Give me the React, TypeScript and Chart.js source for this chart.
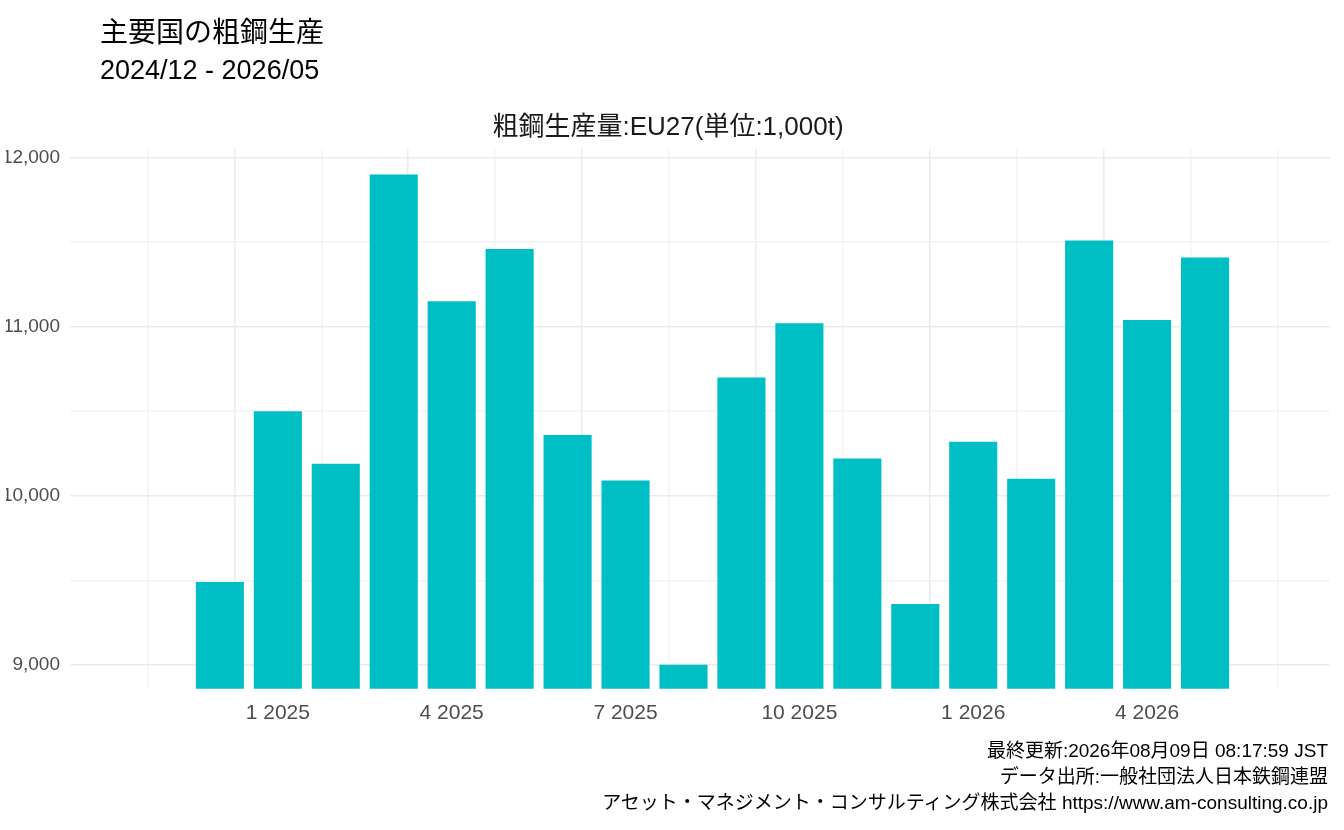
import React, { useEffect, useRef } from "react";
import { Chart, registerables } from "chart.js";
Chart.register(...registerables);

const months = ["2024-12","2025-01","2025-02","2025-03","2025-04","2025-05","2025-06","2025-07","2025-08","2025-09","2025-10","2025-11","2025-12","2026-01","2026-02","2026-03","2026-04","2026-05"];
const production = [9490,10500,10190,11900,11150,11460,10360,10090,9000,10700,11020,10220,9360,10320,10100,11510,11040,11410];
const tickLabels: Record<number,string> = {1:"1 2025",4:"4 2025",7:"7 2025",10:"10 2025",13:"1 2026",16:"4 2026"};
const yTicks = [9000,9500,10000,10500,11000,11500,12000];

const FONT = "'Liberation Sans', 'Noto Sans CJK JP', sans-serif";

export default function App() {
  const ref = useRef<HTMLCanvasElement>(null);
  useEffect(() => {
    document.body.style.margin = "0";
    const chart = new Chart(ref.current!, {
      type: "bar",
      data: {
        datasets: [{
          data: production.map((v, i) => ({ x: i, y: v })),
          backgroundColor: "#00BFC4",
          categoryPercentage: 1,
          barPercentage: 0.83,
        }],
      },
      options: {
        animation: false,
        responsive: false,
        layout: { padding: { top: 112, bottom: 92, right: 14, left: 6 } },
        plugins: {
          legend: { display: false },
          tooltip: { enabled: false },
          title: { display: true, text: "粗鋼生産量:EU27(単位:1,000t)", color: "#1a1a1a", font: { family: FONT, size: 26, weight: "normal" }, padding: { top: 0, bottom: 6 } },
        },
        scales: {
          x: {
            type: "linear", min: -1.75, max: 18.32,
            border: { display: false },
            afterBuildTicks: (ax: any) => {
              const t: any[] = [];
              for (let v = -0.5; v <= 17.6; v += 1.5) t.push({ value: v });
              ax.ticks = t;
            },
            grid: { color: (c: any) => (Number.isInteger(c.tick?.value) ? "#ebebeb" : "#f3f3f3"), lineWidth: 1.5, drawTicks: false },
            ticks: { autoSkip: false, maxRotation: 0, padding: 12, color: "#4d4d4d", font: { family: FONT, size: 21 }, callback: (v: any) => tickLabels[v] ?? "" },
          },
          y: {
            min: 8858, max: 12050,
            border: { display: false },
            afterFit: (ax: any) => { ax.width = 64; },
            afterBuildTicks: (ax: any) => { ax.ticks = yTicks.map((v) => ({ value: v })); },
            grid: { color: (c: any) => (c.tick?.value % 1000 === 0 ? "#ebebeb" : "#f3f3f3"), lineWidth: 1.5, drawTicks: false },
            ticks: { padding: 10, color: "#4d4d4d", font: { family: FONT, size: 19 }, callback: (v: any) => (v % 1000 === 0 ? Number(v).toLocaleString("en-US") : "") },
          },
        },
      },
    } as any);
    return () => chart.destroy();
  }, []);
  const txt: React.CSSProperties = { position: "absolute", fontFamily: FONT, color: "#000", whiteSpace: "nowrap" };
  return (
    <div style={{ position: "relative", width: 1344, height: 830, background: "#fff" }}>
      <canvas ref={ref} width={1344} height={830} style={{ position: "absolute", left: 0, top: 0 }} />
      <div style={{ ...txt, left: 100, top: 10, fontSize: 28 }}>主要国の粗鋼生産</div>
      <div style={{ ...txt, left: 100, top: 55, fontSize: 27 }}>2024/12 - 2026/05</div>
      <div style={{ ...txt, right: 16, top: 738, fontSize: 19, textAlign: "right", lineHeight: "26px" }}>
        最終更新:2026年08月09日 08:17:59 JST<br />データ出所:一般社団法人日本鉄鋼連盟<br />アセット・マネジメント・コンサルティング株式会社 https://www.am-consulting.co.jp
      </div>
    </div>
  );
}
